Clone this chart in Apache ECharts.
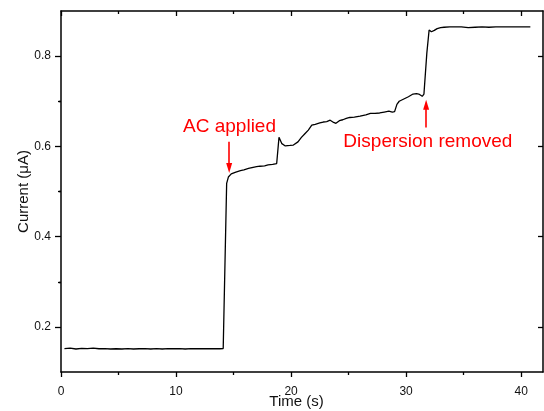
<!DOCTYPE html>
<html>
<head>
<meta charset="utf-8">
<script src="https://cdn.jsdelivr.net/npm/echarts@6/dist/echarts.min.js"></script>
<style>
  html, body { margin: 0; padding: 0; background: #fff; }
  #chart { width: 544px; height: 411px; }
</style>
</head>
<body>
<div id="chart"></div>
<script>
// time (s) and current (uA)
const time = [
  0.3, 0.8, 1.3, 1.8, 2.3, 2.8, 3.3, 3.8, 4.3, 4.8, 5.3, 5.8, 6.3, 6.8, 7.3, 7.8, 8.3, 8.8,
  9.3, 9.8, 10.3, 10.8, 11.3, 11.8, 12.3, 12.8, 13.3, 13.8, 14.1,
  14.4, 14.55, 14.8, 15.2, 15.6, 15.9, 16.3, 16.6, 17.0, 17.3, 17.7, 18.0, 18.4, 18.75,
  18.95, 19.2, 19.5, 19.9, 20.2, 20.6, 20.9, 21.2, 21.5, 21.8, 22.1, 22.5, 22.8, 23.1,
  23.4, 23.7, 23.9, 24.2, 24.5, 24.8, 25.1, 25.5, 26.0, 26.5, 26.9, 27.3, 27.7, 28.1,
  28.5, 28.8, 29.0, 29.2, 29.4, 29.8, 30.2, 30.6, 30.9, 31.1, 31.4, 31.55,
  31.8, 32.0, 32.2, 32.45, 32.7, 33.0, 33.3, 33.8, 34.3, 34.8, 35.4, 36.0, 36.6, 37.2,
  37.8, 38.4, 39.0, 39.6, 40.2, 40.8
];
const current = [
  0.152, 0.153, 0.151, 0.1525, 0.152, 0.153, 0.1515, 0.152, 0.151, 0.1515, 0.151, 0.152,
  0.151, 0.1515, 0.152, 0.151, 0.152, 0.151, 0.152, 0.1515, 0.152, 0.151, 0.152, 0.1515,
  0.152, 0.1515, 0.152, 0.1515, 0.152,
  0.518, 0.532, 0.539, 0.543, 0.546, 0.548, 0.551, 0.553, 0.555, 0.556, 0.557, 0.559, 0.560, 0.562,
  0.620, 0.606, 0.601, 0.602, 0.603, 0.610, 0.620, 0.628, 0.636, 0.647, 0.649, 0.652, 0.654, 0.655,
  0.658, 0.653, 0.651, 0.657, 0.659, 0.662, 0.664, 0.665, 0.667, 0.670, 0.673, 0.673, 0.674, 0.676,
  0.678, 0.676, 0.677, 0.693, 0.700, 0.705, 0.710, 0.716, 0.717, 0.716, 0.711, 0.716,
  0.806, 0.858, 0.854, 0.857, 0.861, 0.863, 0.864, 0.865, 0.865, 0.865, 0.863, 0.864, 0.865, 0.864,
  0.865, 0.865, 0.865, 0.865, 0.865, 0.865
];

const xMajor = [0, 10, 20, 30, 40];
const xMinor = [5, 15, 25, 35];
const yMajor = [0.2, 0.4, 0.6, 0.8];
const yMinor = [0.3, 0.5, 0.7];

// annotations: [label, text x, text y, arrow x, arrow from y, arrow to y]
const notes = [
  ['AC applied', 14.65, 0.644, 14.62, 0.61, 0.552],
  ['Dispersion removed', 31.89, 0.6095, 31.74, 0.642, 0.692]
];

const font = 'Liberation Sans, Arial, sans-serif';
const black = { color: '#000', width: 1.3 };

const tickAxis = (pos, vals, len, inside, extra) => Object.assign({
  type: 'value',
  position: pos,
  min: pos === 'top' || pos === 'bottom' ? 0 : 0.1,
  max: pos === 'top' || pos === 'bottom' ? 41.9 : 0.9,
  axisLine: { show: false },
  axisTick: { show: true, inside: inside, length: len, customValues: vals, lineStyle: black },
  axisLabel: { show: false },
  splitLine: { show: false }
}, extra || {});

const chart = echarts.init(document.getElementById('chart'));
chart.setOption({
  animation: false,
  grid: { left: 61, right: 1, top: 11, bottom: 39, outerBoundsMode: 'none', containLabel: false },
  xAxis: [
    tickAxis('bottom', xMajor, 5, false, {
      axisLine: { show: true, onZero: false, lineStyle: { color: '#000', width: 1.5 } },
      axisLabel: { show: true, customValues: xMajor, margin: 14, fontSize: 12, color: '#111', fontFamily: font },
      name: 'Time (s)', nameLocation: 'middle', nameGap: 22, nameMoveOverlap: false,
      nameTextStyle: { fontSize: 15, color: '#111', fontFamily: font, padding: [0, 11, 0, 0] }
    }),
    tickAxis('bottom', xMinor, 3, false),
    tickAxis('top', xMajor, 5, true, {
      axisLine: { show: true, onZero: false, lineStyle: { color: '#000', width: 1.5 } }
    }),
    tickAxis('top', xMinor, 3, true)
  ],
  yAxis: [
    tickAxis('left', yMajor, 6, false, {
      axisLine: { show: true, onZero: false, lineStyle: { color: '#000', width: 1.5 } },
      axisLabel: { show: true, customValues: yMajor, margin: 10, fontSize: 12, color: '#111', fontFamily: font },
      name: 'Current (\u03bcA)', nameLocation: 'middle', nameGap: 30, nameMoveOverlap: false,
      nameTextStyle: { fontSize: 15, color: '#111', fontFamily: font }
    }),
    tickAxis('left', yMinor, 3, false),
    tickAxis('right', yMajor, 5, true, {
      axisLine: { show: true, onZero: false, lineStyle: { color: '#000', width: 1.5 } }
    }),
    tickAxis('right', yMinor, 2, true)
  ],
  series: [{
    type: 'line',
    xAxisIndex: 0,
    yAxisIndex: 0,
    data: time.map((t, i) => [t, current[i]]),
    showSymbol: false,
    lineStyle: { color: '#000', width: 1.3 },
    silent: true,
    markLine: {
      silent: true,
      symbol: ['none', 'triangle'],
      symbolSize: [6, 10],
      label: { show: false },
      lineStyle: { color: '#f00', width: 1.6, type: 'solid' },
      data: notes.map(n => [{ coord: [n[3], n[4]] }, { coord: [n[3], n[5]] }])
    },
    markPoint: {
      silent: true,
      symbol: 'rect',
      symbolSize: 0,
      label: { show: true, position: 'inside', formatter: '{b}', fontSize: 19, color: '#f00', fontFamily: font },
      data: notes.map(n => ({ name: n[0], coord: [n[1], n[2]] }))
    }
  }]
});
</script>
</body>
</html>
